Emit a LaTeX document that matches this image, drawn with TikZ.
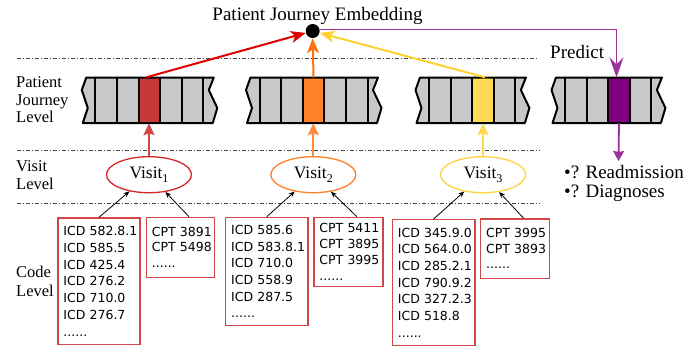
\documentclass[tikz,border=0pt]{standalone}
\usepackage{fontspec}
\setmainfont{Liberation Serif}
\newfontfamily\codefont{DejaVu Sans}
\usetikzlibrary{arrows.meta,shapes.geometric,calc}
\definecolor{cellgray}{RGB}{200,200,200}
\definecolor{cellred}{RGB}{200,56,58}
\definecolor{cellorange}{RGB}{255,130,40}
\definecolor{cellyellow}{RGB}{255,218,85}
\definecolor{cellpurple}{RGB}{128,0,128}
\definecolor{topred}{RGB}{224,0,0}
\definecolor{toporange}{RGB}{255,112,16}
\definecolor{topyellow}{RGB}{255,210,50}
\definecolor{toppurple}{RGB}{153,51,153}
\definecolor{lowred}{RGB}{210,70,70}
\definecolor{loworange}{RGB}{255,140,60}
\definecolor{lowyellow}{RGB}{255,215,80}
\definecolor{ellred}{RGB}{212,40,40}
\definecolor{ellorange}{RGB}{255,127,39}
\definecolor{ellyellow}{RGB}{255,210,63}
\definecolor{boxred}{RGB}{210,70,70}
\definecolor{sepgray}{RGB}{70,70,70}
\newcommand\jbar[5]{%
  \pgfmathsetmacro\jb{#1+(#2-1)*21.6}
  \fill[cellgray] (#1-9,77.5) -- (#1-13.5,90) -- (#1-7.5,108) -- (#1-12.5,123) -- (\jb+9.5,123) -- (\jb+14,108) -- (\jb+5.5,90) -- (\jb+10.5,77.5) -- cycle;
  \node[cellbox, fill=#4] (#5) at ({#1+(#3+0.5)*21.6},100.25) {};
  \draw[barline] (#1-9,77.5) -- (#1-13.5,90) -- (#1-7.5,108) -- (#1-12.5,123) -- (\jb+9.5,123) -- (\jb+14,108) -- (\jb+5.5,90) -- (\jb+10.5,77.5) -- cycle;
  \foreach \i in {1,...,#2} \draw[barline] ({#1+(\i-1)*21.6},77.5) -- ({#1+(\i-1)*21.6},123);
}
\newcommand\vsub[1]{\raisebox{-4pt}{\fontsize{12}{12}\selectfont #1}}
\begin{document}
\begin{tikzpicture}[x=1pt,y=-1pt,
  cellbox/.style={rectangle, draw=none, inner sep=0pt, minimum width=21.6pt, minimum height=45.5pt},
  barline/.style={line width=2pt, black, line join=round},
  seprule/.style={sepgray, line width=0.8pt, dash pattern=on 4pt off 2pt on 1pt off 2pt},
  bigtip/.style={-{Stealth[length=15pt,width=12pt,inset=4pt]}},
  lowtip/.style={-{Stealth[length=12pt,width=11pt,inset=2pt]}, line width=2.2pt},
  smalltip/.style={-{Stealth[length=6pt,width=5pt]}, line width=0.8pt, black},
  visitnode/.style={ellipse, line width=1.3pt, minimum width=85pt, minimum height=36pt, inner sep=0pt, font=\rmfamily\fontsize{17.5}{20}\selectfont},
  codebox/.style={rectangle, draw=boxred, line width=1.3pt, anchor=north west, inner xsep=5.5pt, inner ysep=0pt, align=left},
  lvl/.style={anchor=base west, inner sep=0pt, font=\rmfamily\fontsize{16.5}{18}\selectfont},
  big/.style={inner sep=0pt, font=\rmfamily\fontsize{19}{19}\selectfont}
]
\useasboundingbox (0,0) rectangle (699,346);

% separators
\draw[seprule] (16.7,58) -- (537,58);
\draw[seprule] (16.7,150) -- (540,150);
\draw[seprule] (16.7,203.5) -- (540,203.5);

% level labels
\node[lvl] (l1) at (16,87.3) {Patient};
\node[lvl] (l2) at (16,105) {Journey};
\node[lvl] (l3) at (16,122.7) {Level};
\node[lvl] (l4) at (16,171.7) {Visit};
\node[lvl] (l5) at (16,189.3) {Level};
\node[lvl] (l6) at (16,277.3) {Code};
\node[lvl] (l7) at (16,296) {Level};

% title and prediction
\node[big, anchor=base] (title) at (317.5,20.7) {Patient Journey Embedding};
\node[big, anchor=base west] (pred) at (550,58.3) {Predict};
\node[big, anchor=base west] (o1) at (564,178.3) {•? Readmission};
\node[big, anchor=base west] (o2) at (564,197) {•? Diagnoses};

% bars
\jbar{95.3}{6}{2}{cellred}{c1}
\jbar{259.5}{6}{2}{cellorange}{c2}
\jbar{429}{5}{2}{cellyellow}{c3}
\jbar{565}{5}{2}{cellpurple}{c4}

% embedding dot
\node[circle, fill=black, minimum size=14pt, inner sep=0pt] (dot) at (312.7,31) {};

% visits
\node[visitnode, draw=ellred] (v1) at (149,174.7) {Visit\vsub{1}};
\node[visitnode, draw=ellorange] (v2) at (313.3,174.7) {Visit\vsub{2}};
\node[visitnode, draw=ellyellow] (v3) at (483,174.7) {Visit\vsub{3}};

% code boxes
\node[codebox, text width=71pt, minimum height=126.7pt, font=\codefont\fontsize{12.5}{16.7}\selectfont] (b1) at (57.3,217.3)
  {ICD~582.8.1\\ICD~585.5\\ICD~425.4\\ICD~276.2\\ICD~710.0\\ICD~276.7\\......};
\node[codebox, text width=57.3pt, minimum height=60pt, font=\codefont\fontsize{12.5}{15.6}\selectfont] (b2) at (145.7,216.7)
  {CPT~3891\\CPT~5498\\......};
\node[codebox, text width=71.3pt, minimum height=108.3pt, font=\codefont\fontsize{12.5}{16.7}\selectfont] (b3) at (225,216.7)
  {ICD~585.6\\ICD~583.8.1\\ICD~710.0\\ICD~558.9\\ICD~287.5\\......};
\node[codebox, text width=58pt, minimum height=69pt, font=\codefont\fontsize{12.5}{15.8}\selectfont] (b4) at (313.3,216.7)
  {CPT~5411\\CPT~3895\\CPT~3995\\......};
\node[codebox, text width=71.6pt, minimum height=126pt, font=\codefont\fontsize{12.5}{16.7}\selectfont] (b5) at (391.7,219)
  {ICD~345.9.0\\ICD~564.0.0\\ICD~285.2.1\\ICD~790.9.2\\ICD~327.2.3\\ICD~518.8\\......};
\node[codebox, text width=58pt, minimum height=59.4pt, font=\codefont\fontsize{12.5}{15.6}\selectfont] (b6) at (480,218.3)
  {CPT~3995\\CPT~3893\\......};

% code -> visit
\draw[smalltip] (b1.north) -- (v1);
\draw[smalltip] ([xshift=8.5pt]b2.north) -- (v1);
\draw[smalltip] (b3.north) -- (v2);
\draw[smalltip] ([xshift=8.5pt]b4.north) -- (v2);
\draw[smalltip] (b5.north) -- (v3);
\draw[smalltip] ([xshift=8.5pt]b6.north) -- (v3);

% visit -> journey
\draw[lowtip, lowred] (v1.north) -- (v1.north |- c1.south);
\draw[lowtip, loworange] (v2.north) -- (v2.north |- c2.south);
\draw[lowtip, lowyellow] (v3.north) -- (v3.north |- c3.south);

% journey -> embedding
\draw[bigtip, topred, line width=2pt] ([xshift=-3pt]c1.north) -- (dot);
\draw[bigtip, toporange, line width=2pt] (c2.north) -- (dot.south);
\draw[bigtip, topyellow, line width=2pt] ([xshift=2pt]c3.north) -- (dot);

% embedding -> prediction
\draw[-{Stealth[length=20pt,width=14pt,inset=7pt]}, toppurple, line width=1.5pt] ([yshift=1.7pt]dot.east) -| ([xshift=-2.5pt]c4.north);
\coordinate (ptip) at (618.5,161);
\draw[-{Stealth[length=10pt,width=11pt,inset=1pt]}, toppurple, line width=1.8pt] (c4.south) -- (ptip);
\end{tikzpicture}
\end{document}
